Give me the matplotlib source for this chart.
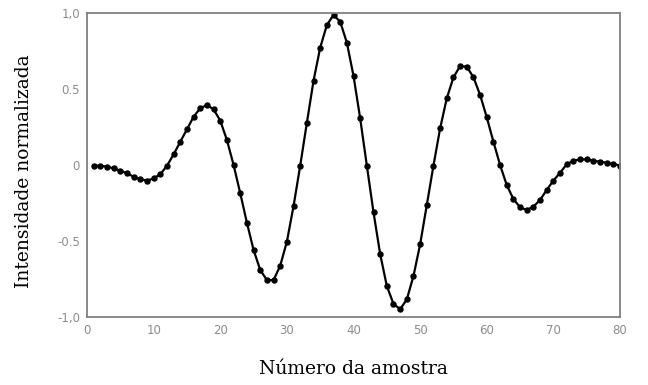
import matplotlib
matplotlib.use("Agg")
import matplotlib.pyplot as plt
import numpy as np

# Normalised intensity of each sample
samples = np.arange(1, 81)
intensity = [
    -0.005, -0.005, -0.011, -0.022, -0.037, -0.055, -0.077, -0.092, -0.103, -0.088,
    -0.061, -0.005, 0.070, 0.153, 0.235, 0.318, 0.373, 0.395, 0.366, 0.292,
    0.164, 0.000, -0.186, -0.380, -0.559, -0.691, -0.757, -0.757, -0.662, -0.504,
    -0.270, -0.004, 0.278, 0.555, 0.772, 0.921, 0.987, 0.943, 0.805, 0.586,
    0.307, -0.004, -0.311, -0.586, -0.796, -0.914, -0.949, -0.884, -0.730, -0.522,
    -0.263, -0.004, 0.241, 0.439, 0.577, 0.651, 0.647, 0.577, 0.461, 0.314,
    0.153, 0.000, -0.132, -0.224, -0.278, -0.296, -0.274, -0.230, -0.164, -0.103,
    -0.051, 0.005, 0.028, 0.037, 0.037, 0.028, 0.022, 0.015, 0.007, -0.004,
]

x_ticks = [0, 10, 20, 30, 40, 50, 60, 70, 80]
y_ticks = [-1.0, -0.5, 0.0, 0.5, 1.0]
y_tick_labels = ["-1,0", "-0.5", "0", "0.5", "1,0"]

fig = plt.figure(figsize=(6.48, 3.85), dpi=100)
ax = fig.add_axes([0.1343, 0.1766, 0.8225, 0.7896])

ax.plot(samples, intensity, color="black", linewidth=1.6,
        marker="o", markersize=3.6, markerfacecolor="black", markeredgecolor="black")

ax.set_xlim(0, 80)
ax.set_ylim(-1.0, 1.0)
ax.set_xticks(x_ticks)
ax.set_yticks(y_ticks)
ax.set_yticklabels(y_tick_labels)
ax.tick_params(length=0, pad=5, labelsize=8.5, labelcolor="#8c8c8c")

for spine in ax.spines.values():
    spine.set_color("#808080")
    spine.set_linewidth(1.3)

ax.set_xlabel("Número da amostra", family="DejaVu Serif", fontsize=13.5)
ax.set_ylabel("Intensidade normalizada", family="DejaVu Serif", fontsize=13.5)
ax.xaxis.set_label_coords(0.5, -0.143)
ax.yaxis.set_label_coords(-0.101, 0.48)

fig.savefig("out.png", dpi=100)
plt.close(fig)
